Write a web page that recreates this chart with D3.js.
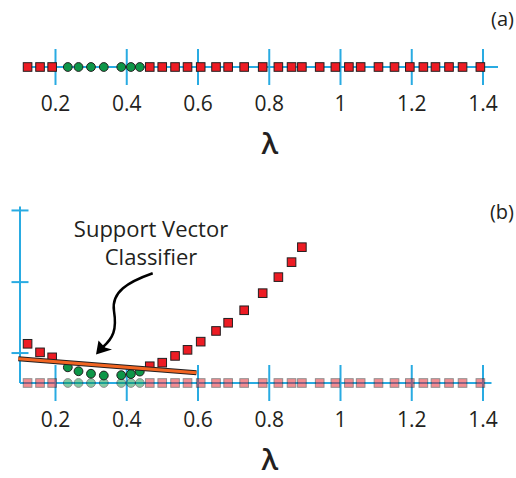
<!DOCTYPE html>
<html>
<head>
<meta charset="utf-8">
<script src="https://cdn.jsdelivr.net/npm/d3@7"></script>
<style>
  html, body { margin: 0; padding: 0; background: #fff; }
  svg { display: block; font-family: "Open Sans", sans-serif; }
</style>
</head>
<body>
<svg id="chart" width="516" height="478"></svg>
<script>
// ---- data ----
const redLambda = [0.123, 0.158, 0.192, 0.466, 0.501, 0.537, 0.572, 0.609, 0.652, 0.686, 0.731, 0.783, 0.827, 0.864, 0.893,
                   0.943, 0.987, 1.025, 1.058, 1.108, 1.153, 1.196, 1.234, 1.268, 1.306, 1.344, 1.394];
const greenLambda = [0.236, 0.266, 0.301, 0.337, 0.386, 0.413, 0.438];
// panel (b) heights (only the visible raised points)
const redScore = [0.110, 0.086, 0.072, 0.047, 0.057, 0.076, 0.093, 0.116, 0.146, 0.169, 0.204, 0.252, 0.297, 0.339, 0.381];
const greenScore = [0.044, 0.033, 0.026, 0.021, 0.022, 0.025, 0.032];
const xTicks = [0.2, 0.4, 0.6, 0.8, 1.0, 1.2, 1.4];
const xTickLabels = ["0.2", "0.4", "0.6", "0.8", "1", "1.2", "1.4"];
const yTicks = [0.084, 0.283, 0.484];
const svcLine = [[0.097, 0.068], [0.597, 0.029]];

// ---- styles ----
const AX = "#29abe2", RED = "#ed1c24", GREEN = "#0d9648", INK = "#231f20";

const svg = d3.select("#chart");
const x = d3.scaleLinear().domain([0.2, 1.4]).range([55, 482.5]);
const yA = 67, yB = 383;
const y = d3.scaleLinear().domain([0, 0.5]).range([yB, yB - 178.25]);

function lambdaAxis(g, yPos, x0, x1) {
  g.append("line").attr("x1", x0).attr("x2", x1).attr("y1", yPos).attr("y2", yPos)
    .attr("stroke", AX).attr("stroke-width", 2);
  const ax = d3.axisBottom(x).tickValues(xTicks)
    .tickFormat((d, i) => xTickLabels[i]).tickSize(36).tickPadding(11);
  const ag = g.append("g").attr("transform", `translate(0,${yPos - 18})`).call(ax);
  ag.select(".domain").remove();
  ag.selectAll(".tick line").attr("stroke", AX).attr("stroke-width", 2);
  ag.selectAll(".tick text").attr("font-size", 21).attr("fill", INK)
    .attr("font-family", "Open Sans, sans-serif");
  g.append("text").attr("x", x(0.8) + 1).attr("y", yPos + 87).attr("text-anchor", "middle")
    .attr("font-size", 29).attr("font-weight", 600).attr("fill", INK).text("λ");
}

function squares(g, data, cx, cy, opacity) {
  g.selectAll(null).data(data).enter().append("rect")
    .attr("x", d => cx(d) - 4.3).attr("y", d => cy(d) - 4.3)
    .attr("width", 8.6).attr("height", 8.6)
    .attr("fill", RED).attr("stroke", INK).attr("stroke-width", 1)
    .attr("opacity", opacity);
}
function circles(g, data, cx, cy, opacity) {
  g.selectAll(null).data(data).enter().append("circle")
    .attr("cx", d => cx(d)).attr("cy", d => cy(d)).attr("r", 4.4)
    .attr("fill", GREEN).attr("stroke", INK).attr("stroke-width", 1)
    .attr("opacity", opacity);
}

// ---- panel (a) ----
const gA = svg.append("g");
lambdaAxis(gA, yA, 23, 498);
squares(gA, redLambda, d => x(d), () => yA, 1);
circles(gA, greenLambda, d => x(d), () => yA, 1);
gA.append("text").attr("x", 514).attr("y", 25.5).attr("text-anchor", "end")
  .attr("font-size", 20).attr("fill", INK).text("(a)");

// ---- panel (b) ----
const gB = svg.append("g");
// y axis
gB.append("line").attr("x1", 20).attr("x2", 20).attr("y1", y(0)).attr("y2", y(0.495))
  .attr("stroke", AX).attr("stroke-width", 2);
gB.selectAll(null).data(yTicks).enter().append("line")
  .attr("x1", 11.5).attr("x2", 28.5).attr("y1", d => y(d)).attr("y2", d => y(d))
  .attr("stroke", AX).attr("stroke-width", 2);
lambdaAxis(gB, yB, 20, 491.5);
// faded projections on the axis
squares(gB, redLambda, d => x(d), () => yB, 0.5);
circles(gB, greenLambda, d => x(d), () => yB, 0.5);
// raised points
const redRaised = redScore.map((s, i) => [redLambda[i], s]);
const greenRaised = greenScore.map((s, i) => [greenLambda[i], s]);
squares(gB, redRaised, d => x(d[0]), d => y(d[1]), 1);
circles(gB, greenRaised, d => x(d[0]), d => y(d[1]), 1);
// support vector classifier line
const lineGen = d3.line().x(d => x(d[0])).y(d => y(d[1]));
gB.append("path").attr("d", lineGen(svcLine)).attr("stroke", INK).attr("stroke-width", 5).attr("fill", "none");
gB.append("path").attr("d", lineGen(svcLine)).attr("stroke", "#f26522").attr("stroke-width", 3).attr("fill", "none");

// annotation
gB.append("text").attr("x", 151).attr("y", 236.7).attr("text-anchor", "middle")
  .attr("font-size", 22).attr("fill", INK).text("Support Vector");
gB.append("text").attr("x", 151).attr("y", 265).attr("text-anchor", "middle")
  .attr("font-size", 22).attr("fill", INK).text("Classifier");
gB.append("path")
  .attr("d", "M152.7,273.3 C128,282 111,292 114,311 C117,330 113,338 103,347")
  .attr("stroke", "#000").attr("stroke-width", 2.5).attr("fill", "none");
gB.append("path")
  .attr("d", "M96,354.5 L98.5,340.5 L105,347.5 L112,349.5 Z")
  .attr("fill", "#000");

gB.append("text").attr("x", 514).attr("y", 219).attr("text-anchor", "end")
  .attr("font-size", 20).attr("fill", INK).text("(b)");
</script>
</body>
</html>
